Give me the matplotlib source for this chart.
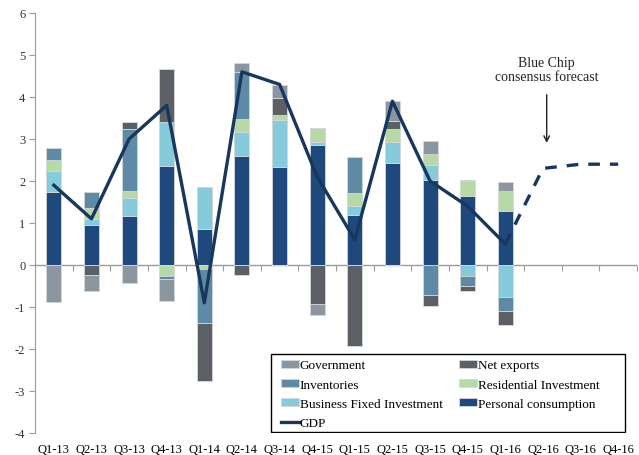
import matplotlib.pyplot as plt
from matplotlib.patches import Rectangle
import numpy as np

quarters = ["Q1-13", "Q2-13", "Q3-13", "Q4-13", "Q1-14", "Q2-14", "Q3-14", "Q4-15",
            "Q1-15", "Q2-15", "Q3-15", "Q4-15", "Q1-16", "Q2-16", "Q3-16", "Q4-16"]

# contributions to GDP growth, percentage points (13 actual quarters)
personal = [1.74, 0.96, 1.17, 2.36, 0.85, 2.60, 2.34, 2.86, 1.18, 2.42, 2.03, 1.65, 1.28]
business_fixed = [0.51, 0.14, 0.43, 1.05, 1.01, 0.56, 1.12, 0.08, 0.22, 0.52, 0.34, -0.27, -0.76]
residential = [0.26, 0.26, 0.16, -0.26, -0.09, 0.31, 0.10, 0.32, 0.31, 0.31, 0.27, 0.34, 0.48]
inventories = [0.28, 0.39, 1.48, -0.07, -1.29, 1.13, 0.0, 0.0, 0.87, 0.0, -0.72, -0.22, -0.34]
net_exports = [0.0, -0.24, 0.16, 1.26, -1.38, -0.24, 0.41, -0.92, -1.92, 0.19, -0.25, -0.14, -0.32]
government = [-0.88, -0.38, -0.42, -0.52, 0.0, 0.21, 0.32, -0.26, 0.0, 0.47, 0.32, 0.03, 0.21]

gdp = [1.9, 1.1, 3.0, 3.8, -0.9, 4.6, 4.3, 2.1, 0.6, 3.9, 2.0, 1.4, 0.5]
# Blue Chip consensus, starting from the last actual quarter
forecast = [0.5, 2.3, 2.4, 2.4]

plt.rcParams['font.family'] = ['Liberation Serif', 'DejaVu Serif']
plt.rcParams['axes.unicode_minus'] = False

series = [
    ("Personal consumption", personal, "#1f497d"),
    ("Business Fixed Investment", business_fixed, "#86cbdb"),
    ("Residential Investment", residential, "#b6d9a6"),
    ("Inventories", inventories, "#5f8aa5"),
    ("Net exports", net_exports, "#5c6064"),
    ("Government", government, "#8c96a0"),
]

fig, ax = plt.subplots(figsize=(6.39, 4.56), dpi=100)
fig.subplots_adjust(left=35 / 639, right=637 / 639, bottom=22 / 456, top=1 - 14 / 456)

n = len(personal)
x = np.arange(n)
pos_base = np.zeros(n)
neg_base = np.zeros(n)
handles = {}
for name, vals, color in series:
    v = np.array(vals)
    pos = np.where(v > 0, v, 0)
    neg = np.where(v < 0, v, 0)
    h = ax.bar(x, pos, 0.4, bottom=pos_base, color=color, edgecolor="#d4d7da", linewidth=0.6, zorder=2)
    ax.bar(x, neg, 0.4, bottom=neg_base, color=color, edgecolor="#d4d7da", linewidth=0.6, zorder=2)
    pos_base += pos
    neg_base += neg
    handles[name] = h

line, = ax.plot(x, gdp, color="#17375e", lw=2.4, zorder=3)
ax.plot(np.arange(n - 1, n - 1 + len(forecast)), forecast, color="#17375e", lw=2.4,
        dashes=(3.5, 3), zorder=3)

ax.axhline(0, color="#9a9a9a", lw=1, zorder=1)
ax.set_xlim(-0.5, len(quarters) - 0.5)
ax.set_ylim(-4, 6)
ax.set_yticks(range(-4, 7))
ax.set_xticks(np.arange(len(quarters)))
ax.set_xticklabels(quarters)
ax.tick_params(axis="x", length=0, labelsize=9, pad=7)
ax.tick_params(axis="y", length=4, color="#9a9a9a", labelsize=9, labelcolor="#333333", pad=3)
for side in ["top", "right", "bottom"]:
    ax.spines[side].set_visible(False)
ax.spines["left"].set_color("#9a9a9a")

# small category separators on the zero line
sep = ax.secondary_xaxis(0.4)
sep.set_xticks(np.arange(len(quarters) + 1) - 0.5)
sep.tick_params(length=4, color="#9a9a9a", labelbottom=False, direction="out")
sep.spines["bottom"].set_visible(False)

ax.annotate("", xy=(13.1, 2.84), xytext=(13.1, 4.12),
            arrowprops=dict(arrowstyle="->", color="#222222", lw=1))
ax.text(13.1, 4.65, "Blue Chip\nconsensus forecast", ha="center", va="center",
        fontsize=10, color="#222222", linespacing=1.1)

# legend box drawn separately so the columns keep their own spacing
ax.add_patch(Rectangle((0.392, 0.002), 0.588, 0.186, transform=ax.transAxes,
                       facecolor="white", edgecolor="black", lw=1.0, zorder=4))
order = ["Government", "Inventories", "Business Fixed Investment", None,
         "Net exports", "Residential Investment", "Personal consumption"]
leg_handles = [handles[k] if k else line for k in order]
leg_labels = [k if k else "GDP" for k in order]
leg = ax.legend(leg_handles, leg_labels, ncol=2, loc="upper left",
                bbox_to_anchor=(0.408, 0.175), frameon=False,
                fontsize=9.5, handlelength=1.36, handleheight=0.53, handletextpad=0.1,
                labelspacing=0.55, borderpad=0, columnspacing=1.2, borderaxespad=0)
leg.set_zorder(5)

fig.savefig("out.png", dpi=100)
